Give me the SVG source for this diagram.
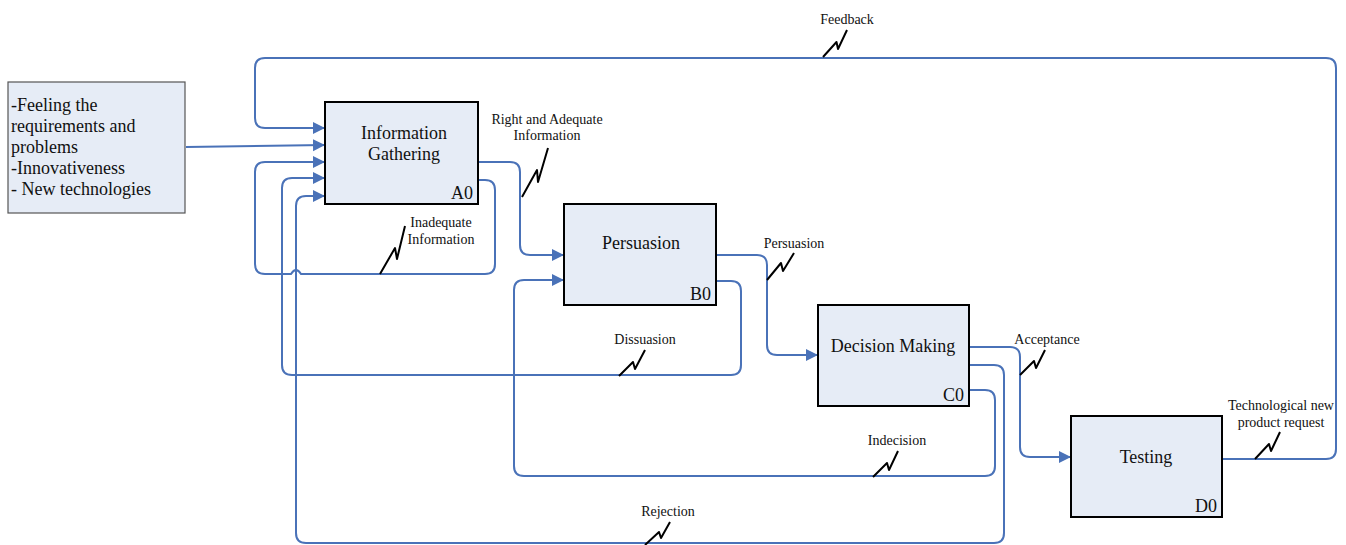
<svg xmlns="http://www.w3.org/2000/svg" width="1346" height="545" viewBox="0 0 1346 545" font-family="'Liberation Serif', 'Times New Roman', serif">
<style>
.box{fill:#e6ecf6;stroke:#000;stroke-width:2}
.inbox{fill:#e6ecf6;stroke:#555;stroke-width:1.2}
text{font-family:'Liberation Serif','Times New Roman',serif;fill:#111}
.big{font-size:18px}
.sm{font-size:14px}
.c{fill:none;stroke:#4a72b8;stroke-width:2}
.z{fill:none;stroke:#000;stroke-width:2;stroke-linejoin:round}
</style>
<defs>
<marker id="ah" markerUnits="userSpaceOnUse" markerWidth="14" markerHeight="14" refX="12" refY="6" orient="auto">
<path d="M0,0 L12,6 L0,12 z" fill="#4a72b8"/>
</marker>
</defs>
<rect width="1346" height="545" fill="#fff"/>
<g id="connectors">
<path class="c" marker-end="url(#ah)" d="M1222,459 H1326 Q1336,459 1336,449 V68 Q1336,58 1326,58 H265 Q255,58 255,68 V118 Q255,128 265,128 H325"/>
<path class="c" marker-end="url(#ah)" d="M186,147 L325,145"/>
<path class="c" marker-end="url(#ah)" d="M478,180 H485 Q495,180 495,190 V264 Q495,274 485,274 H301 Q296,266 291,274 H265 Q255,274 255,264 V172 Q255,162 265,162 H325"/>
<path class="c" marker-end="url(#ah)" d="M478,162 H510 Q520,162 520,172 V245 Q520,255 530,255 H564"/>
<path class="c" marker-end="url(#ah)" d="M716,255 H757 Q767,255 767,265 V345 Q767,355 777,355 H818"/>
<path class="c" marker-end="url(#ah)" d="M716,281 H731 Q741,281 741,291 V365 Q741,375 731,375 H292 Q282,375 282,365 V188 Q282,178 292,178 H325"/>
<path class="c" marker-end="url(#ah)" d="M969,347 H1010 Q1020,347 1020,357 V447 Q1020,457 1030,457 H1071"/>
<path class="c" marker-end="url(#ah)" d="M969,390 H985 Q995,390 995,400 V466 Q995,476 985,476 H524 Q514,476 514,466 V290 Q514,280 524,280 H564"/>
<path class="c" marker-end="url(#ah)" d="M969,365 H994 Q1004,365 1004,375 V533 Q1004,543 994,543 H306 Q296,543 296,533 V206 Q296,196 306,196 H325"/>
<path class="z" d="M823,57 L836.5,42 L838,49 L847,30"/>
<path class="z" d="M522,197 L537,170 L538,182 L548,148"/>
<path class="z" d="M380,274 L395,248 L397,259 L405,226"/>
<path class="z" d="M767,280 L781,263 L783,271 L794,253"/>
<path class="z" d="M619,376 L633,362 L635,369 L645,350"/>
<path class="z" d="M1020,375 L1034,361 L1036,368 L1045,350"/>
<path class="z" d="M873,477 L887,463 L889,470 L898,451"/>
<path class="z" d="M645,545 L659,532 L661,538 L670,522"/>
<path class="z" d="M1255,459 L1269,444 L1271,451 L1280,432"/>
<g class="sm" text-anchor="middle" font-size="14">
<text x="847" y="24">Feedback</text>
<text x="547" y="124">Right and Adequate</text>
<text x="547" y="140">Information</text>
<text x="441" y="227">Inadequate</text>
<text x="441" y="244">Information</text>
<text x="794" y="248">Persuasion</text>
<text x="645" y="344">Dissuasion</text>
<text x="1047" y="344">Acceptance</text>
<text x="897" y="445">Indecision</text>
<text x="668" y="516">Rejection</text>
<text x="1281" y="410">Technological new</text>
<text x="1281" y="427">product request</text>
</g>
</g>
<g id="input">
<rect class="inbox" x="8" y="82" width="177" height="131"/>
<g class="big" font-size="18">
<text x="11" y="111">-Feeling the</text>
<text x="11" y="132">requirements and</text>
<text x="11" y="153">problems</text>
<text x="11" y="174">-Innovativeness</text>
<text x="11" y="195">- New technologies</text>
</g>
</g>
<g id="A0" font-size="18">
<rect class="box" x="325" y="102" width="153" height="102"/>
<text class="big" x="404" y="139" text-anchor="middle">Information</text>
<text class="big" x="404" y="160" text-anchor="middle">Gathering</text>
<text class="big" x="473" y="199" text-anchor="end">A0</text>
</g>
<g id="B0" font-size="18">
<rect class="box" x="564" y="204" width="152" height="101"/>
<text class="big" x="641" y="249" text-anchor="middle">Persuasion</text>
<text class="big" x="711" y="300" text-anchor="end">B0</text>
</g>
<g id="C0" font-size="18">
<rect class="box" x="818" y="305" width="151" height="101"/>
<text class="big" x="893" y="352" text-anchor="middle">Decision Making</text>
<text class="big" x="964" y="401" text-anchor="end">C0</text>
</g>
<g id="D0" font-size="18">
<rect class="box" x="1071" y="416" width="151" height="101"/>
<text class="big" x="1146" y="463" text-anchor="middle">Testing</text>
<text class="big" x="1217" y="512" text-anchor="end">D0</text>
</g>
</svg>
